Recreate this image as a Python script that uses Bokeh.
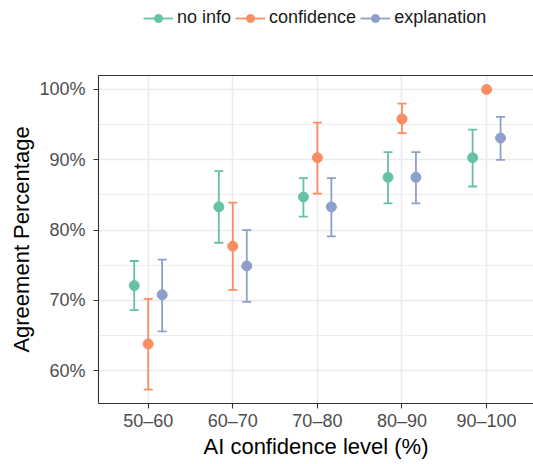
from bokeh.plotting import figure
from bokeh.layouts import column
from bokeh.models import (ColumnDataSource, Range1d, FixedTicker, LinearAxis,
                          PrintfTickFormatter, Legend, LegendItem)
from bokeh.transform import dodge
from bokeh.embed import file_html
from bokeh.resources import INLINE

categories = ["50–60", "60–70", "70–80", "80–90", "90–100"]
series_names = ["no info", "confidence", "explanation"]
series_colors = ["#66C2A5", "#FC8D62", "#8DA0CB"]
series_offsets = [-0.165, 0.0, 0.165]

no_info_mean = [72.1, 83.3, 84.7, 87.5, 90.3]
no_info_low = [68.6, 78.2, 81.9, 83.8, 86.2]
no_info_high = [75.6, 88.4, 87.4, 91.1, 94.3]

confidence_mean = [63.8, 77.7, 90.3, 95.8, 100.0]
confidence_low = [57.3, 71.5, 85.2, 93.8, 100.0]
confidence_high = [70.2, 83.9, 95.3, 98.0, 100.0]

explanation_mean = [70.8, 74.9, 83.3, 87.5, 93.1]
explanation_low = [65.6, 69.8, 79.1, 83.8, 90.0]
explanation_high = [75.8, 80.0, 87.4, 91.1, 96.1]

y_ticks = [60, 70, 80, 90, 100]
y_minor = [55, 65, 75, 85, 95]

means = [no_info_mean, confidence_mean, explanation_mean]
lows = [no_info_low, confidence_low, explanation_low]
highs = [no_info_high, confidence_high, explanation_high]

FONT = "Liberation Sans"
positions = list(range(1, len(categories) + 1))

p = figure(width=533, height=424, output_backend="svg", toolbar_location=None,
           x_range=Range1d(0.4125, 5.5545), y_range=Range1d(55.33, 101.99),
           min_border_left=98, min_border_right=0, min_border_top=35,
           min_border_bottom=61, x_axis_label="AI confidence level (%)",
           y_axis_label="Agreement Percentage")
p.outline_line_color = None
p.background_fill_color = "white"
p.border_fill_color = "white"

# axes
xa = p.xaxis[0]
xa.ticker = FixedTicker(ticks=positions)
xa.major_label_overrides = {i: c for i, c in zip(positions, categories)}
ya = p.yaxis[0]
ya.ticker = FixedTicker(ticks=y_ticks, minor_ticks=y_minor)
ya.formatter = PrintfTickFormatter(format="%d%%")
for ax in (xa, ya):
    ax.axis_line_color = "#333333"
    ax.axis_line_width = 1.1
    ax.major_tick_line_color = "#333333"
    ax.major_tick_line_width = 1.1
    ax.major_tick_in = 0
    ax.major_tick_out = 5
    ax.minor_tick_line_color = None
    ax.major_label_text_font = FONT
    ax.major_label_text_font_size = "18px"
    ax.major_label_text_color = "#4D4D4D"
    ax.axis_label_text_font = FONT
    ax.axis_label_text_font_size = "22px"
    ax.axis_label_text_font_style = "normal"
    ax.axis_label_text_color = "#000000"
xa.major_label_standoff = 2
xa.axis_label_standoff = 0
ya.major_label_standoff = 8
ya.axis_label_standoff = 2

top_axis = LinearAxis(ticker=FixedTicker(ticks=[]), axis_line_color="#333333",
                      axis_line_width=1.1, major_tick_line_color=None,
                      minor_tick_line_color=None, major_label_text_font_size="0px")
p.add_layout(top_axis, "above")

# grids
p.xgrid.ticker = FixedTicker(ticks=positions)
p.xgrid.grid_line_color = "#EBEBEB"
p.xgrid.grid_line_width = 1.6
p.ygrid.ticker = FixedTicker(ticks=y_ticks, minor_ticks=y_minor)
p.ygrid.grid_line_color = "#EBEBEB"
p.ygrid.grid_line_width = 1.6
p.ygrid.minor_grid_line_color = "#EBEBEB"
p.ygrid.minor_grid_line_width = 0.9

sources = []
for name, m, lo, hi in zip(series_names, means, lows, highs):
    sources.append(ColumnDataSource(dict(x=positions, cat=categories,
                                         mean=m, low=lo, high=hi)))

for src, color, off in zip(sources, series_colors, series_offsets):
    xd = dodge("x", off)
    p.segment(x0=xd, x1=xd, y0="low", y1="high", source=src,
              line_color=color, line_width=1.8)
    p.scatter(x=xd, y="low", source=src, marker="dash", size=9,
              line_color=color, line_width=1.8)
    p.scatter(x=xd, y="high", source=src, marker="dash", size=9,
              line_color=color, line_width=1.8)

for src, color, off in zip(sources, series_colors, series_offsets):
    xd = dodge("x", off)
    p.scatter(x=xd, y="mean", source=src, marker="circle", size=10,
              fill_color=color, line_color=color)

# legend strip above the plot (same series, drawn off-range so only the key shows)
lf = figure(width=533, height=40, output_backend="svg", toolbar_location=None,
            x_range=Range1d(100, 101), y_range=Range1d(0, 1),
            x_axis_location=None, y_axis_location=None,
            min_border_left=0, min_border_right=0, min_border_top=0,
            min_border_bottom=0)
lf.outline_line_color = None
lf.xgrid.visible = False
lf.ygrid.visible = False
legend_items = []
for name, src, color in zip(series_names, sources, series_colors):
    seg = lf.segment(x0="x", x1="x", y0="low", y1="high", source=src,
                     line_color=color, line_width=1.8)
    dots = lf.scatter(x="x", y="mean", source=src, marker="circle", size=10,
                      fill_color=color, line_color=color)
    legend_items.append(LegendItem(label=name, renderers=[seg, dots]))

legend = Legend(items=legend_items, orientation="horizontal", location=(45, 12),
                border_line_color=None, background_fill_alpha=0,
                padding=0, margin=0, spacing=4, label_standoff=4,
                glyph_width=30, glyph_height=20,
                label_text_font=FONT, label_text_font_size="18px",
                label_text_color="#1A1A1A")
lf.add_layout(legend)

layout = column(lf, p, spacing=0)
open("out.html", "w").write(file_html(layout, INLINE))
